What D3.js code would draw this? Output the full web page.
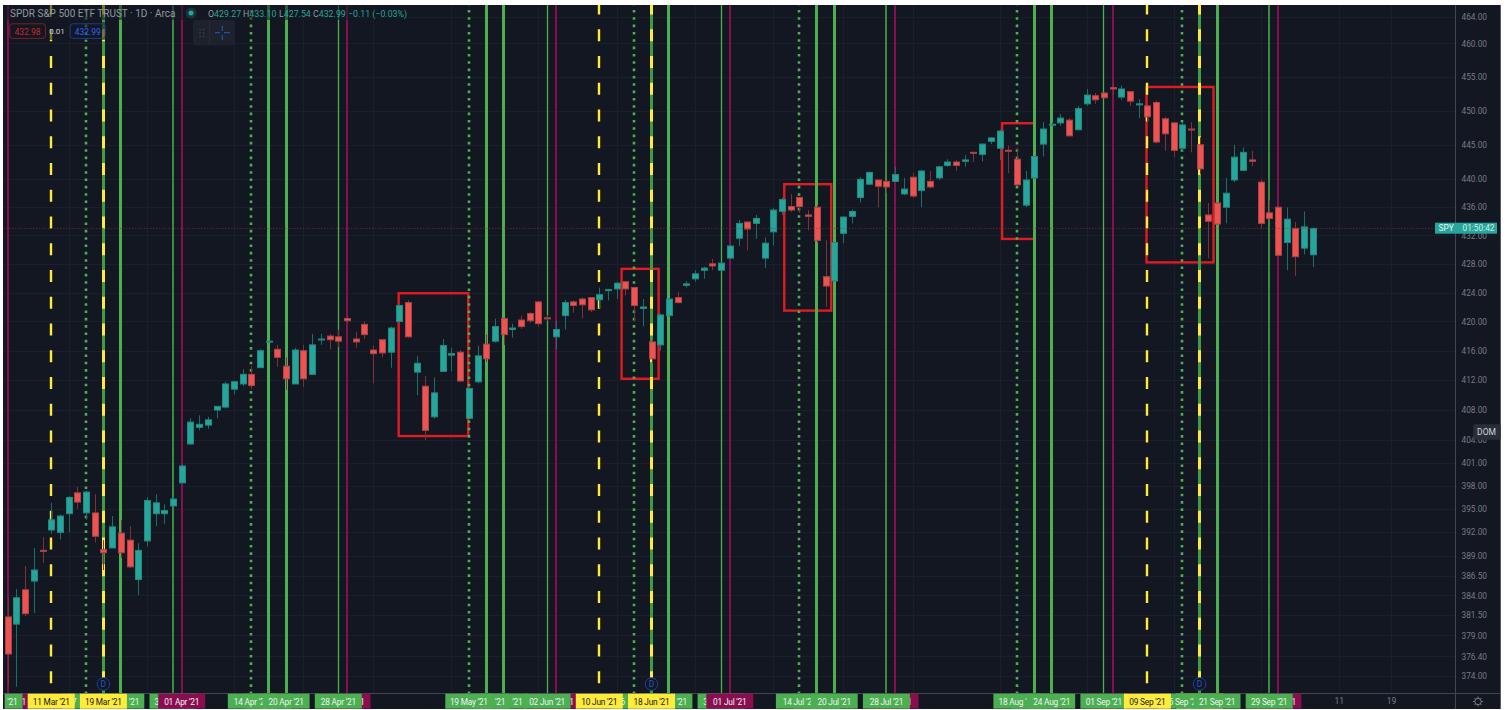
<!DOCTYPE html>
<html>
<head>
<meta charset="utf-8">
<script src="https://cdn.jsdelivr.net/npm/d3@7/dist/d3.min.js"></script>
<style>
html,body{margin:0;padding:0;background:#fff;overflow:hidden}
svg{display:block}
text{font-family:Roboto,"Open Sans",sans-serif}
</style>
</head>
<body>
<svg id="chart" width="1510" height="710"></svg>
<script>
const opens=[381.3,380.4,384.7,385.8,389.7,392.3,392,394.4,397.1,394.5,394.5,389.8,390,391.9,391,386,390.9,394.4,394.4,395.4,398.4,403.5,405.7,406,408,408.4,410.8,411.5,412.8,413.7,417.2,416.2,413.9,411.5,416,412.8,417.5,418,417.9,420.4,417.6,419.6,416.1,417.5,415.8,420,422.6,413.1,411.2,407.1,413.2,415.4,415.8,406.9,411.8,416.9,417.3,420.4,418.9,420.2,421.1,422.7,420.5,417.9,420.8,422.7,423.1,423.3,423,424.3,424.5,425.5,424.7,421.8,417.2,416.8,420.8,423.3,425,425.9,427.1,428,427.1,428.8,431.6,433.9,433.7,428.8,432.5,435.4,436.1,437.4,434.9,436,426.2,425.6,432.3,434.7,437.4,439.3,439.9,439.7,439.7,437.9,440.3,438.4,439.7,440.2,442,442.5,442.6,443.9,443.6,445.5,444.5,444.2,442.9,436.3,440.2,445.1,447.9,448.2,448.6,447.2,451,452.2,452.6,453.4,452,452.8,450.9,450.7,451.2,448.8,448.2,444.5,447.3,445,434.9,436.6,436,439.9,441.3,442.8,439.6,435.2,436,431,433,430.2,429.27];
const highs=[383.7,384.8,387.7,390,391.4,395.8,394.3,396.7,397.9,397.4,396.9,391,394.1,393.6,392.8,390.6,396.5,396.9,395.6,396.6,400.8,406.9,407.3,407.1,408.5,411.8,411.9,413.5,413.9,416.2,417.4,416.8,415.1,416.4,416.8,418.3,418.3,418.3,418.9,420.8,418.6,420,416.7,417.5,419.3,422.3,422.9,415.3,412.6,412.4,417.6,416.4,416.1,411,416.7,418.2,420.4,420.4,419.7,420.8,421.3,422.8,420.9,420.1,423,422.9,423.3,423.3,424.7,424.5,425.5,425.5,424.8,423.1,417.5,421.1,423.2,424.1,425.6,427.1,427.6,428.7,428.2,430.6,434.2,433.9,434.9,431.7,435.9,437.4,437.9,437.5,435.6,436.3,431.3,431.1,434.7,435.7,440.3,441.1,440,439.8,441.8,440.2,440.9,441.3,441.2,441.9,442.9,442.8,443.5,444,445.2,446.1,447.2,444.9,444.6,441.2,443.4,448.3,448.3,449.5,448.9,450.7,453.2,452.6,452.7,454.1,453.7,452.9,451.7,451,451.5,449.1,448.3,448.2,448.3,446.1,436.6,436.7,440.2,445,444.6,444.1,440,437,436.1,436,433.9,435.4,433.1];
const lows=[372.9,372.7,381.4,381.8,388.1,391.8,391.1,392,395,393.6,390.7,387.2,390,388.7,387.4,384,390.2,392.8,393.1,395.3,398.4,403.4,405.3,405.5,406.9,408.2,410.1,411.2,410.8,413.7,417.1,413.8,410.7,411.5,411.1,412.8,416.8,416.2,416.5,419.8,416.4,417.6,411.6,415.1,413.7,419.8,417.8,410,404,406.9,413.2,413.2,411.8,406.8,411.6,414.5,417.1,416.8,417.8,419,419.8,419.3,420.1,416.2,418.9,421.2,420.4,421.3,421.8,422.9,423.1,423.6,420,419.3,414.3,416,420.7,422.5,424.7,425.5,425.9,427.1,427,428.7,430.5,429.9,431.5,427.4,430.6,434.9,435.3,435.2,432.7,431,422,425.5,430.9,433.7,436.7,439.2,436,438,439.7,437.7,437.3,436,438.7,439.9,441.8,441.2,441.8,442.5,442.6,445.1,442.8,440.9,439.2,436,440.1,443.3,447.7,447.8,446.2,447.1,450.7,451,451.8,452.3,451.6,450.7,448.9,448.3,445.2,444.1,443.2,444.2,443.9,440.7,428.8,433.5,433.7,439.6,441.2,441.9,433,434.3,429.1,427.1,426.3,429.3,427.54];
const closes=[376.7,383.7,381.7,387.2,389.6,393.6,394.1,396.5,395.9,397.2,391.5,389.4,392.7,389.4,387.6,389.7,396.1,395.8,394.8,396.3,400.6,406.4,406.1,406.7,408.5,411.5,411.8,412.8,411.3,416,417.3,415.1,412.2,416.1,412.2,416.8,417.6,417.5,417.3,420.1,417.2,418.2,415.6,415.7,419.1,422.2,417.9,414.3,405.3,410.3,416.7,415.6,411.9,410.9,415.3,414.9,419.3,418.2,419.1,419.3,420.1,419.7,420.4,418.9,422.6,422.2,422.3,421.6,423.7,424.4,425.3,424.5,422.2,422,414.9,420.9,423.1,422.6,425.2,426.6,427.4,427.7,428.1,430.5,433.7,432.9,434.4,430.9,435.6,437.1,435.6,436.1,434.7,431.3,424.9,431,434.6,435.4,440,441,439,438.9,440.7,438.6,437.6,441.2,438.9,441.8,442.5,442,442.8,443.8,445.1,446,447,444.1,439.2,439.9,443.3,447.3,448,448.9,446.3,450.3,452.3,451.6,451.9,453.2,453.2,451.4,451,449.1,445.4,446.6,444.2,447.9,447.2,441.5,434,433.6,438,443.2,443.9,442.6,433.7,434.4,429.2,434.3,429,433.2,432.99];

const priceTicks=[464,460,455,450,445,440,436,432,428,424,420,416,412,408,404,401,398,395,392,389,386.5,384,381.5,379,376.4,374];
const timeTicks=[153,159];
const timeTickLabels=["11","19"];
const gridBars=[7,16,26,34,42,51,61,70,79,88,96,104,114,124,134,144,153,159];

const magentaLines=[0,20,39,63,83,102,127,146];
const solidLines=[13,30,32,55,57,76,93,95,118,120,139];
const darkLines=[19,101,145];
const thinLines=[38,62,82,126];
const dottedLines=[9,28,53,72,91,116,135];
const yellowLines=[5,68,131];
const bothLines=[11,74,137];
const dividendBars=[11,74,137];

// date tags, listed from lowest to topmost layer; tagShown is the part of each date left uncovered
const tagBars=[0,-1,9,13,5,11,19,20,30,28,32,39,38,63,57,55,53,62,72,76,68,74,82,83,93,91,95,102,101,118,116,120,127,126,137,135,131,139,146,145];
const tagDates=["04 Mar '21","03 Mar '21","17 Mar '21","23 Mar '21","11 Mar '21","19 Mar '21","31 Mar '21","01 Apr '21","16 Apr '21","14 Apr '21","20 Apr '21","29 Apr '21","28 Apr '21","03 Jun '21","25 May '21","21 May '21","19 May '21","02 Jun '21","16 Jun '21","22 Jun '21","10 Jun '21","18 Jun '21","30 Jun '21","01 Jul '21","16 Jul '21","14 Jul '21","20 Jul '21","29 Jul '21","28 Jul '21","20 Aug '21","18 Aug '21","24 Aug '21","02 Sep '21","01 Sep '21","17 Sep '21","15 Sep '21","09 Sep '21","21 Sep '21","30 Sep '21","29 Sep '21"];
const tagShown=["1","'21","7","'21","11 Mar '21","19 Mar '21","3","01 Apr '21","","14 Apr '2","20 Apr '21","1","28 Apr '21","1","'21","'21","19 May '21","02 Jun '21","6","'21","10 Jun '21","18 Jun '21","3","01 Jul '21","","14 Jul '2","20 Jul '21","1","28 Jul '21","","18 Aug '","24 Aug '21","","01 Sep '21","","5 Sep '2","09 Sep '21","21 Sep '21","1","29 Sep '21"];
const tagKinds=["m","g","g","g","y","y","g","m","g","g","g","m","g","m","g","g","g","g","g","g","y","y","g","m","g","g","g","m","g","g","g","g","m","g","y","g","y","g","m","g"];

// annotation boxes: bar from, bar to, price high, price low
const boxFrom=[44.94,70.56,89.26,114.3,130.9];
const boxTo=[52.94,74.82,94.66,118,138.6];
const boxHigh=[423.9,427.3,439.3,448.15,453.5];
const boxLow=[404.55,412.2,421.5,431.5,428.2];

const lastClose=432.99;
const ohlcLabels=["O","H","L","C"];
const ohlcValues=["429.27","433.10","427.54","432.99"];

const C={bg:"#131722",grid:"#1b1f2b",axis:"#434651",text:"#787b86",up:"#26a69a",down:"#ef5350",
  upWick:"#1d6d68",downWick:"#7d3238",upEdge:"#1f8b80",downEdge:"#a8444a",green:"#4caf50",dark:"#3b8a40",both:"#3f9c45",
  mag:"#880e4f",yellow:"#ffeb3b",box:"#e01b22"};
const L=3,T=5,R=1500.7,B=709,axisX=1455.5,axisY=693;

const svg=d3.select("#chart");
const x=d3.scaleLinear().domain([0,150]).range([7.7,1312.7]);
const y=d3.scaleLog().domain([374,464]).range([676,17]);

svg.append("rect").attr("x",L).attr("y",T).attr("width",R-L).attr("height",B-T).attr("fill",C.bg);
const defs=svg.append("defs");
defs.append("clipPath").attr("id","pane").append("rect").attr("x",L).attr("y",T).attr("width",axisX-L).attr("height",axisY-T);
defs.append("clipPath").attr("id","tagclip").append("rect").attr("x",4.7).attr("y",axisY).attr("width",axisX-4.7).attr("height",B-axisY);

const pane=svg.append("g").attr("clip-path","url(#pane)");
// grid
pane.append("g").selectAll("line").data(priceTicks).join("line")
  .attr("x1",L).attr("x2",axisX).attr("y1",d=>Math.round(y(d))+.5).attr("y2",d=>Math.round(y(d))+.5)
  .attr("stroke",C.grid);
pane.append("g").selectAll("line").data(gridBars).join("line")
  .attr("x1",d=>Math.round(x(d))+.5).attr("x2",d=>Math.round(x(d))+.5).attr("y1",T).attr("y2",axisY)
  .attr("stroke",C.grid);

// annotation boxes
pane.append("g").selectAll("rect").data(d3.range(boxFrom.length)).join("rect")
  .attr("x",i=>x(boxFrom[i])).attr("y",i=>y(boxHigh[i]))
  .attr("width",i=>x(boxTo[i])-x(boxFrom[i])).attr("height",i=>y(boxLow[i])-y(boxHigh[i]))
  .attr("fill","none").attr("stroke",C.box).attr("stroke-width",2.4);

// vertical event lines, snapped to the pixel grid
function vlines(bars,color,w,dash,odd){
  const sx=d=>odd?Math.floor(x(d))+.5:Math.round(x(d));
  pane.append("g").selectAll("line").data(bars).join("line")
    .attr("x1",sx).attr("x2",sx).attr("y1",2.6).attr("y2",axisY)
    .attr("stroke",color).attr("stroke-width",w).attr("stroke-dasharray",dash||null);
}
vlines(magentaLines,C.mag,2);
vlines(darkLines,C.dark,2);
vlines(thinLines,C.green,1.3,null,true);
vlines(solidLines,C.green,3,null,true);
vlines(dottedLines,C.green,2.6,"2.6 4.73");
vlines(bothLines,C.both,3,null,true);
vlines(yellowLines,C.yellow,2.4,"12 14.75");
vlines(bothLines,C.yellow,3,"12 14.75",true);

// header backdrops that dim lines behind the legend
pane.append("rect").attr("x",L).attr("y",T).attr("width",400).attr("height",15).attr("fill",C.bg).attr("opacity",.55);
pane.append("rect").attr("x",9).attr("y",22).attr("width",97).attr("height",18).attr("fill",C.bg).attr("opacity",.55);

// candles
const bars=pane.append("g").selectAll("g").data(d3.range(opens.length)).join("g");
bars.append("line")
  .attr("x1",i=>Math.round(x(i))+.5).attr("x2",i=>Math.round(x(i))+.5)
  .attr("y1",i=>y(highs[i])).attr("y2",i=>y(lows[i]))
  .attr("stroke",i=>closes[i]>=opens[i]?C.upWick:C.downWick);
bars.append("rect")
  .attr("x",i=>Math.round(x(i))-2.5).attr("width",6)
  .attr("y",i=>y(Math.max(opens[i],closes[i])))
  .attr("height",i=>Math.max(1,y(Math.min(opens[i],closes[i]))-y(Math.max(opens[i],closes[i]))))
  .attr("fill",i=>closes[i]>=opens[i]?C.up:C.down)
  .attr("stroke",i=>closes[i]>=opens[i]?C.upEdge:C.downEdge);

// last price line
pane.append("line").attr("x1",L).attr("x2",1435).attr("y1",y(lastClose)).attr("y2",y(lastClose))
  .attr("stroke","#8c2f39").attr("stroke-opacity",.6).attr("stroke-dasharray","1.5 1.5");

// dividend markers
const dm=svg.append("g").selectAll("g").data(dividendBars).join("g")
  .attr("transform",d=>`translate(${x(d)},684)`);
dm.append("circle").attr("r",6.3).attr("fill",C.bg).attr("stroke","#1c3f9e").attr("stroke-width",1);
dm.append("text").attr("y",3).attr("text-anchor","middle").attr("font-size",8.5).attr("fill","#2456c8").text("D");

// axes
const yAxis=d3.axisRight(y).tickValues(priceTicks).tickFormat(d3.format(".2f")).tickSize(0).tickPadding(6);
const ya=svg.append("g").attr("transform",`translate(${axisX},0)`).call(yAxis);
ya.select(".domain").remove();
ya.selectAll("text").attr("fill",C.text).attr("font-size",8.3).attr("font-family","Roboto,sans-serif");
const xAxis=d3.axisBottom(x).tickValues(timeTicks).tickFormat((d,i)=>timeTickLabels[i]).tickSize(0).tickPadding(4);
const xa=svg.append("g").attr("transform",`translate(0,${axisY+.5})`).call(xAxis);
xa.select(".domain").remove();
xa.selectAll("text").attr("fill",C.text).attr("font-size",8.5).attr("font-family","Roboto,sans-serif");
svg.append("line").attr("x1",axisX).attr("x2",axisX).attr("y1",T).attr("y2",B).attr("stroke",C.axis);
svg.append("line").attr("x1",L).attr("x2",R).attr("y1",axisY+.5).attr("y2",axisY+.5).attr("stroke",C.axis);

// date tags
const tagColor={g:C.green,m:C.mag,y:C.yellow};
const tg=svg.append("g").attr("clip-path","url(#tagclip)").selectAll("g").data(d3.range(tagBars.length)).join("g")
  .attr("transform",i=>`translate(${x(tagBars[i])},0)`);
tg.append("rect").attr("x",-23.5).attr("width",47).attr("y",693.7).attr("height",15)
  .attr("fill",i=>tagColor[tagKinds[i]]);
tg.append("text").attr("y",704.5).attr("font-size",8.3).attr("letter-spacing",-.2)
  .attr("fill",i=>tagKinds[i]==="y"?"#131722":"#f0f3fa")
  .each(function(i){
    const full=tagDates[i],shown=tagShown[i],el=d3.select(this);
    el.text(full);
    const w=this.getComputedTextLength();
    if(!shown){el.remove();return;}
    const at=full.lastIndexOf(shown);
    const off=at>0?this.getSubStringLength(0,at):0;
    el.attr("x",-w/2+off).text(shown);
  });

// legend
const head=svg.append("g");
head.append("text").attr("x",10).attr("y",16.5).attr("font-size",10).attr("fill","#9598a1").text("SPDR S&P 500 ETF TRUST · 1D · Arca");
head.append("circle").attr("cx",191).attr("cy",13).attr("r",5.5).attr("fill",C.up).attr("opacity",.2);
head.append("circle").attr("cx",191).attr("cy",13).attr("r",2.5).attr("fill",C.up);
const ohlcX=[208,243,279,313];
ohlcLabels.forEach((lab,i)=>{
  const t=head.append("text").attr("x",ohlcX[i]).attr("y",16.5).attr("font-size",8.8);
  t.append("tspan").attr("fill","#9598a1").text(lab);
  t.append("tspan").attr("fill",C.up).text(ohlcValues[i]);
});
head.append("text").attr("x",348).attr("y",16.5).attr("font-size",8.8).attr("fill",C.up).text("−0.11 (−0.03%)");

head.append("rect").attr("x",9.8).attr("y",23.8).attr("width",35.6).attr("height",14.6).attr("rx",2.5).attr("fill","none").attr("stroke","#7f1f24");
head.append("text").attr("x",27.5).attr("y",34.5).attr("text-anchor","middle").attr("font-size",8.5).attr("fill","#c6282f").text("432.98");
head.append("text").attr("x",57).attr("y",34).attr("text-anchor","middle").attr("font-size",8).attr("fill","#d1d4dc").text("0.01");
head.append("rect").attr("x",70.2).attr("y",23.8).attr("width",35).attr("height",14.6).attr("rx",2.5).attr("fill","none").attr("stroke","#1d3c8c");
head.append("text").attr("x",87.7).attr("y",34.5).attr("text-anchor","middle").attr("font-size",8.5).attr("fill","#2962ff").text("432.99");

// floating widget
const w=svg.append("g");
w.append("rect").attr("x",193).attr("y",20).attr("width",42).attr("height",25.5).attr("rx",3).attr("fill","#1e222d");
w.append("line").attr("x1",209.5).attr("x2",209.5).attr("y1",20).attr("y2",45.5).attr("stroke","#262a36");
[0,1,2].forEach(r=>[0,1].forEach(c=>w.append("rect").attr("x",199.5+c*3.5).attr("y",29+r*3.5).attr("width",1).attr("height",1).attr("fill","#50535e")));
const crossH=[[215,220],[224,230]],crossV=[[26,31],[35,40]];
crossH.forEach(s=>w.append("line").attr("x1",s[0]).attr("x2",s[1]).attr("y1",32.7).attr("y2",32.7).attr("stroke","#2456c8"));
crossV.forEach(s=>w.append("line").attr("x1",222.3).attr("x2",222.3).attr("y1",s[0]).attr("y2",s[1]).attr("stroke","#2456c8"));

// last price tag
svg.append("rect").attr("x",1435).attr("y",222.7).attr("width",62).attr("height",11).attr("fill",C.up);
svg.append("text").attr("x",1438.5).attr("y",231.3).attr("font-size",8.3).attr("fill","#e8f6f4").text("SPY");
svg.append("text").attr("x",1462.5).attr("y",231.3).attr("font-size",8.3).attr("fill","#cfeeea").text("01:50:42");

// DOM button
svg.append("rect").attr("x",1473.3).attr("y",424.3).attr("width",27.4).attr("height",15.4).attr("rx",2).attr("fill","#2a2e39");
svg.append("text").attr("x",1486.5).attr("y",435).attr("text-anchor","middle").attr("font-size",8.5).attr("fill","#d1d4dc").text("DOM");

// settings gear
const gear=svg.append("g").attr("transform","translate(1478,701.5)").attr("stroke","#787b86").attr("fill","none");
gear.append("circle").attr("r",3.2);
gear.selectAll("line").data(d3.range(8)).join("line")
  .attr("x1",i=>3.2*Math.cos(i*Math.PI/4)).attr("y1",i=>3.2*Math.sin(i*Math.PI/4))
  .attr("x2",i=>5*Math.cos(i*Math.PI/4)).attr("y2",i=>5*Math.sin(i*Math.PI/4));
</script>
</body>
</html>
